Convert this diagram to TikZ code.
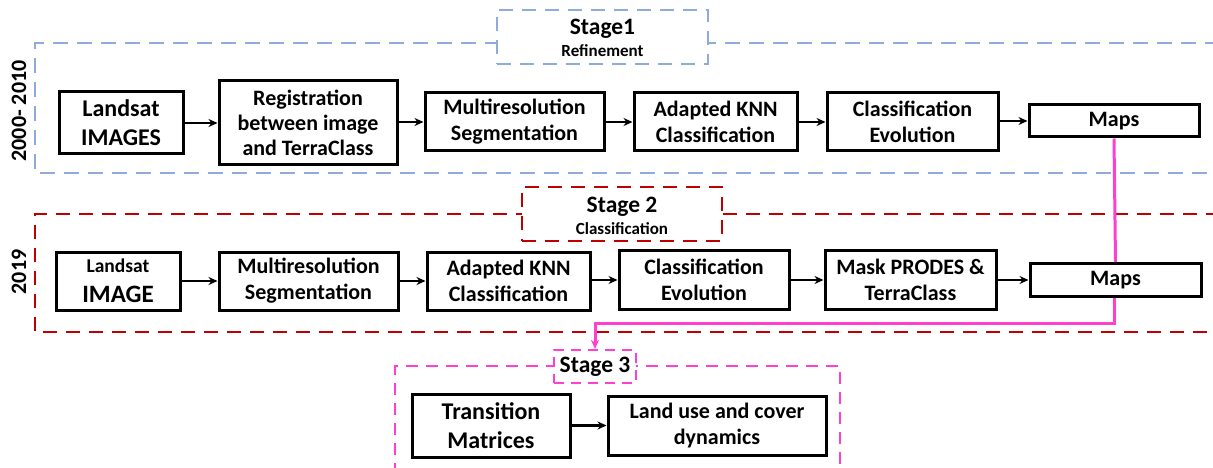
\documentclass[tikz,border=0pt]{standalone}
\usepackage{fontspec}
\setmainfont{Carlito}
\usetikzlibrary{arrows.meta}
\definecolor{sblue}{HTML}{8FAADC}
\definecolor{sred}{HTML}{C00000}
\definecolor{smag}{HTML}{FF3FCF}
\tikzset{
  box/.style={draw, line width=3pt, inner sep=0pt, align=center,
    font=\fontsize{22}{26}\selectfont\bfseries},
  bigbox/.style={box, font=\fontsize{24}{29}\selectfont\bfseries},
  arr/.style={-{Stealth[length=9pt,width=8pt]}, line width=2.3pt},
  frame/.style={line width=2.2pt, dash pattern=on 15pt off 9pt},
  lbl/.style={draw, fill=white, line width=2.2pt, inner sep=0pt, dash pattern=on 14pt off 9pt},
  big/.style={font=\fontsize{23.5}{23.5}\selectfont\bfseries, anchor=base, inner sep=0pt},
  small/.style={font=\fontsize{17}{17}\selectfont\bfseries, anchor=base, inner sep=0pt},
  yr/.style={font=\fontsize{22}{22}\selectfont\bfseries, rotate=90, inner sep=0pt},
  mline/.style={smag, line width=3pt}
}
\begin{document}
\begin{tikzpicture}[x=1pt,y=-1pt]
\useasboundingbox (0,0) rectangle (1213,468);
% frames
\draw[frame, sblue] (1220,43) -- (35,43) -- (35,173) -- (1220,173);
\draw[frame, sred, dash pattern=on 14pt off 9pt] (1220,214) -- (35,214) -- (35,332) -- (1220,332);
\draw[frame, smag, dash pattern=on 12pt off 8pt] (395,475) -- (395,366) -- (840,366) -- (840,475);
% year labels
\node[yr] (y1) at (19,111) {2000- 2010};
\node[yr] (y2) at (19,272) {2019};
% row 1
\node[bigbox, minimum width=124pt, minimum height=62pt] (L1) at (121,123) {Landsat\\IMAGES};
\node[box, font=\fontsize{22}{25}\selectfont\bfseries, minimum width=178pt, minimum height=84pt] (R1) at (308,123) {Registration\\between image\\and TerraClass};
\node[box, minimum width=179pt, minimum height=58pt] (M1) at (514.5,122) {Multiresolution\\Segmentation};
\node[box, minimum width=163pt, minimum height=58pt] (K1) at (715.5,122) {Adapted KNN\\Classification};
\node[box, minimum width=171pt, minimum height=58pt] (E1) at (912.5,122) {Classification\\Evolution};
\node[box, minimum width=170pt, minimum height=32pt] (P1) at (1114,121) {Maps};
\draw[arr] (L1.east |- R1.west) -- (R1.west);
\draw[arr] (R1.east |- M1.west) -- (M1.west);
\draw[arr] (M1) -- (K1);
\draw[arr] (K1) -- (E1);
\draw[arr] (E1.east |- P1.west) -- (P1.west);
% row 2
\node[box, minimum width=124pt, minimum height=58pt] (L2) at (118,281) {{\fontsize{19.5}{19.5}\selectfont Landsat}\\[4pt]{\fontsize{25}{25}\selectfont IMAGE}};
\node[box, minimum width=179pt, minimum height=58pt] (M2) at (308.5,281) {Multiresolution\\Segmentation};
\node[box, minimum width=163pt, minimum height=58pt] (K2) at (508.5,281) {Adapted KNN\\Classification};
\node[box, minimum width=170pt, minimum height=59pt] (E2) at (704,280) {Classification\\Evolution};
\node[box, minimum width=171pt, minimum height=59pt] (X2) at (910.5,280) {Mask PRODES \&\\TerraClass};
\node[box, minimum width=171pt, minimum height=33pt] (P2) at (1115.5,280) {Maps};
\draw[arr] (L2.east |- M2.west) -- (M2.west);
\draw[arr] (M2) -- (K2);
\draw[arr] (K2.east |- E2.west) -- (E2.west);
\draw[arr] (E2) -- (X2);
\draw[arr] (X2) -- (P2);
% stage labels
\node[lbl, draw=sblue, minimum width=211pt, minimum height=54pt] (S1) at (602.5,37) {};
\node[big] (S1a) at (602.5,35) {Stage1};
\node[small] (S1b) at (602.5,57) {Refinement};
\node[lbl, draw=sred, minimum width=200pt, minimum height=54pt] (S2) at (622,214) {};
\node[big] (S2a) at (622,212) {Stage 2};
\node[small] (S2b) at (622,234) {Classification};
\node[lbl, draw=smag, dash pattern=on 10pt off 7pt, minimum width=82pt, minimum height=33pt, font=\fontsize{23.5}{23.5}\selectfont\bfseries] (S3) at (595,366.5) {Stage 3};
% stage 3
\node[bigbox, minimum width=158pt, minimum height=63pt] (T3) at (491,425.5) {Transition\\Matrices};
\node[box, minimum width=218pt, minimum height=59pt] (D3) at (717,425.5) {Land use and cover\\dynamics};
\draw[arr] (T3) -- (D3);
% magenta connectors
\draw[mline] (P1.south) -- (P2.north);
\coordinate (c1) at (1114,323);
\coordinate (c2) at (595,323);
\draw[mline, -{Stealth[length=9pt,width=8pt]}] (P2.south -| c1) -- (c1) -- (c2) -- (S3.north);
\end{tikzpicture}
\end{document}
